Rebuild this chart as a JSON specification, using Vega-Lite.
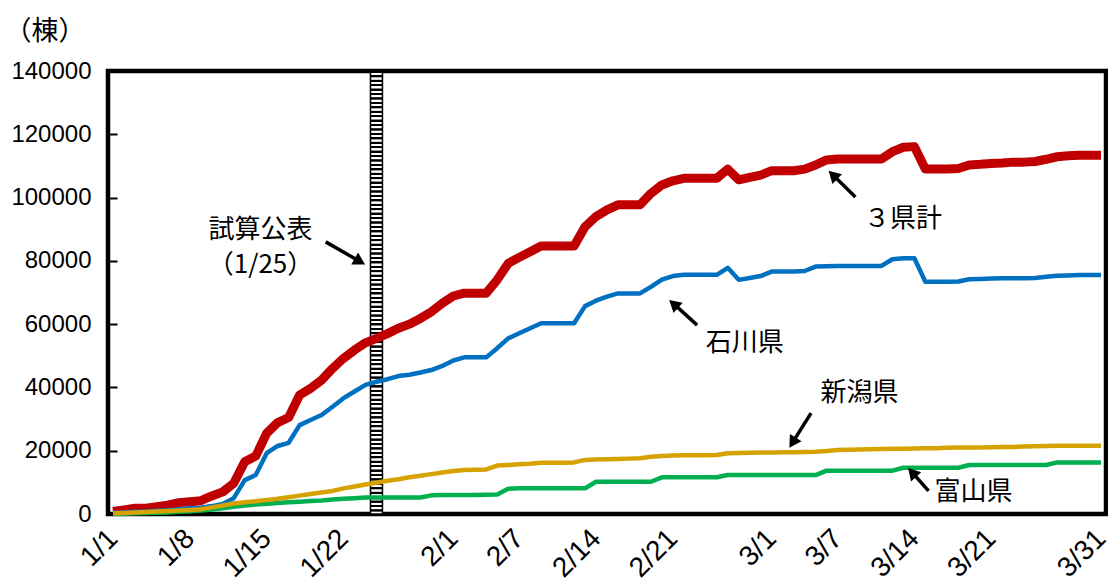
{
  "$schema": "https://vega.github.io/schema/vega-lite/v6.json",
  "width": 998,
  "height": 443,
  "autosize": {"type": "none"},
  "padding": {"left": 108, "top": 71, "right": 2, "bottom": 64},
  "background": "white",
  "config": {
    "view": {"stroke": "black", "strokeWidth": 4.5},
    "axis": {
      "grid": false,
      "domain": false,
      "labelFont": "Liberation Sans",
      "labelFontSize": 24,
      "labelColor": "black"
    }
  },
  "datasets": {
    "daily": [
      {"date": "2024-01-01", "total": 800, "ishikawa": 300, "niigata": 200, "toyama": 0},
      {"date": "2024-01-02", "total": 1300, "ishikawa": 500, "niigata": 300, "toyama": 100},
      {"date": "2024-01-03", "total": 1800, "ishikawa": 700, "niigata": 450, "toyama": 200},
      {"date": "2024-01-04", "total": 1800, "ishikawa": 800, "niigata": 600, "toyama": 300},
      {"date": "2024-01-05", "total": 2300, "ishikawa": 1000, "niigata": 800, "toyama": 400},
      {"date": "2024-01-06", "total": 2800, "ishikawa": 1200, "niigata": 950, "toyama": 500},
      {"date": "2024-01-07", "total": 3600, "ishikawa": 1500, "niigata": 1100, "toyama": 700},
      {"date": "2024-01-08", "total": 3900, "ishikawa": 1800, "niigata": 1300, "toyama": 900},
      {"date": "2024-01-09", "total": 4200, "ishikawa": 2000, "niigata": 1500, "toyama": 1100},
      {"date": "2024-01-10", "total": 5700, "ishikawa": 2500, "niigata": 2100, "toyama": 1400},
      {"date": "2024-01-11", "total": 7000, "ishikawa": 3200, "niigata": 2700, "toyama": 1800},
      {"date": "2024-01-12", "total": 9700, "ishikawa": 5000, "niigata": 3300, "toyama": 2300},
      {"date": "2024-01-13", "total": 16500, "ishikawa": 10700, "niigata": 3700, "toyama": 2700},
      {"date": "2024-01-14", "total": 18300, "ishikawa": 12300, "niigata": 4000, "toyama": 3000},
      {"date": "2024-01-15", "total": 25500, "ishikawa": 19200, "niigata": 4400, "toyama": 3200},
      {"date": "2024-01-16", "total": 28900, "ishikawa": 21500, "niigata": 4800, "toyama": 3500},
      {"date": "2024-01-17", "total": 30500, "ishikawa": 22500, "niigata": 5300, "toyama": 3700},
      {"date": "2024-01-18", "total": 37600, "ishikawa": 28100, "niigata": 5800, "toyama": 3900},
      {"date": "2024-01-19", "total": 39700, "ishikawa": 29700, "niigata": 6300, "toyama": 4100},
      {"date": "2024-01-20", "total": 42300, "ishikawa": 31300, "niigata": 6800, "toyama": 4300},
      {"date": "2024-01-21", "total": 46000, "ishikawa": 33900, "niigata": 7300, "toyama": 4600},
      {"date": "2024-01-22", "total": 49200, "ishikawa": 36600, "niigata": 8100, "toyama": 4800},
      {"date": "2024-01-23", "total": 51800, "ishikawa": 38700, "niigata": 8700, "toyama": 5000},
      {"date": "2024-01-24", "total": 54100, "ishikawa": 40800, "niigata": 9300, "toyama": 5200},
      {"date": "2024-01-25", "total": 55500, "ishikawa": 41800, "niigata": 9900, "toyama": 5200},
      {"date": "2024-01-26", "total": 57000, "ishikawa": 42600, "niigata": 10500, "toyama": 5200},
      {"date": "2024-01-27", "total": 58700, "ishikawa": 43600, "niigata": 11000, "toyama": 5200},
      {"date": "2024-01-28", "total": 60000, "ishikawa": 44000, "niigata": 11600, "toyama": 5200},
      {"date": "2024-01-29", "total": 61800, "ishikawa": 44700, "niigata": 12100, "toyama": 5200},
      {"date": "2024-01-30", "total": 63900, "ishikawa": 45500, "niigata": 12600, "toyama": 5900},
      {"date": "2024-01-31", "total": 66600, "ishikawa": 46800, "niigata": 13100, "toyama": 6000},
      {"date": "2024-02-01", "total": 68900, "ishikawa": 48500, "niigata": 13600, "toyama": 6000},
      {"date": "2024-02-02", "total": 69800, "ishikawa": 49500, "niigata": 13900, "toyama": 6000},
      {"date": "2024-02-03", "total": 69800, "ishikawa": 49500, "niigata": 14000, "toyama": 6000},
      {"date": "2024-02-04", "total": 69800, "ishikawa": 49500, "niigata": 14100, "toyama": 6100},
      {"date": "2024-02-05", "total": 74000, "ishikawa": 52400, "niigata": 15300, "toyama": 6200},
      {"date": "2024-02-06", "total": 79200, "ishikawa": 55500, "niigata": 15500, "toyama": 8000},
      {"date": "2024-02-07", "total": 81100, "ishikawa": 57100, "niigata": 15700, "toyama": 8100},
      {"date": "2024-02-08", "total": 82900, "ishikawa": 58700, "niigata": 15900, "toyama": 8100},
      {"date": "2024-02-09", "total": 84700, "ishikawa": 60300, "niigata": 16200, "toyama": 8100},
      {"date": "2024-02-10", "total": 84700, "ishikawa": 60300, "niigata": 16200, "toyama": 8100},
      {"date": "2024-02-11", "total": 84700, "ishikawa": 60300, "niigata": 16200, "toyama": 8100},
      {"date": "2024-02-12", "total": 84700, "ishikawa": 60300, "niigata": 16300, "toyama": 8100},
      {"date": "2024-02-13", "total": 90800, "ishikawa": 65700, "niigata": 17100, "toyama": 8100},
      {"date": "2024-02-14", "total": 94000, "ishikawa": 67400, "niigata": 17200, "toyama": 10200},
      {"date": "2024-02-15", "total": 96100, "ishikawa": 68700, "niigata": 17300, "toyama": 10200},
      {"date": "2024-02-16", "total": 97700, "ishikawa": 69700, "niigata": 17400, "toyama": 10200},
      {"date": "2024-02-17", "total": 97700, "ishikawa": 69700, "niigata": 17500, "toyama": 10200},
      {"date": "2024-02-18", "total": 97700, "ishikawa": 69700, "niigata": 17600, "toyama": 10200},
      {"date": "2024-02-19", "total": 101300, "ishikawa": 71800, "niigata": 18100, "toyama": 10200},
      {"date": "2024-02-20", "total": 104000, "ishikawa": 74100, "niigata": 18300, "toyama": 11600},
      {"date": "2024-02-21", "total": 105300, "ishikawa": 75200, "niigata": 18500, "toyama": 11600},
      {"date": "2024-02-22", "total": 106100, "ishikawa": 75600, "niigata": 18600, "toyama": 11600},
      {"date": "2024-02-23", "total": 106100, "ishikawa": 75600, "niigata": 18600, "toyama": 11600},
      {"date": "2024-02-24", "total": 106100, "ishikawa": 75600, "niigata": 18600, "toyama": 11600},
      {"date": "2024-02-25", "total": 106100, "ishikawa": 75600, "niigata": 18650, "toyama": 11600},
      {"date": "2024-02-26", "total": 109000, "ishikawa": 77800, "niigata": 19200, "toyama": 12300},
      {"date": "2024-02-27", "total": 105600, "ishikawa": 74000, "niigata": 19250, "toyama": 12300},
      {"date": "2024-02-28", "total": 106400, "ishikawa": 74600, "niigata": 19350, "toyama": 12300},
      {"date": "2024-02-29", "total": 107100, "ishikawa": 75200, "niigata": 19400, "toyama": 12300},
      {"date": "2024-03-01", "total": 108500, "ishikawa": 76600, "niigata": 19450, "toyama": 12300},
      {"date": "2024-03-02", "total": 108500, "ishikawa": 76600, "niigata": 19500, "toyama": 12300},
      {"date": "2024-03-03", "total": 108500, "ishikawa": 76600, "niigata": 19550, "toyama": 12300},
      {"date": "2024-03-04", "total": 109000, "ishikawa": 76800, "niigata": 19600, "toyama": 12300},
      {"date": "2024-03-05", "total": 110300, "ishikawa": 78200, "niigata": 19700, "toyama": 12300},
      {"date": "2024-03-06", "total": 111900, "ishikawa": 78300, "niigata": 19900, "toyama": 13700},
      {"date": "2024-03-07", "total": 112200, "ishikawa": 78400, "niigata": 20200, "toyama": 13700},
      {"date": "2024-03-08", "total": 112200, "ishikawa": 78400, "niigata": 20300, "toyama": 13700},
      {"date": "2024-03-09", "total": 112200, "ishikawa": 78400, "niigata": 20400, "toyama": 13700},
      {"date": "2024-03-10", "total": 112200, "ishikawa": 78400, "niigata": 20500, "toyama": 13700},
      {"date": "2024-03-11", "total": 112200, "ishikawa": 78400, "niigata": 20550, "toyama": 13700},
      {"date": "2024-03-12", "total": 114500, "ishikawa": 80500, "niigata": 20600, "toyama": 13700},
      {"date": "2024-03-13", "total": 115900, "ishikawa": 80800, "niigata": 20650, "toyama": 14600},
      {"date": "2024-03-14", "total": 116100, "ishikawa": 80800, "niigata": 20700, "toyama": 14600},
      {"date": "2024-03-15", "total": 109000, "ishikawa": 73400, "niigata": 20750, "toyama": 14600},
      {"date": "2024-03-16", "total": 109000, "ishikawa": 73400, "niigata": 20800, "toyama": 14600},
      {"date": "2024-03-17", "total": 109000, "ishikawa": 73400, "niigata": 20900, "toyama": 14600},
      {"date": "2024-03-18", "total": 109200, "ishikawa": 73500, "niigata": 21000, "toyama": 14600},
      {"date": "2024-03-19", "total": 110300, "ishikawa": 74200, "niigata": 21000, "toyama": 15500},
      {"date": "2024-03-20", "total": 110500, "ishikawa": 74300, "niigata": 21050, "toyama": 15500},
      {"date": "2024-03-21", "total": 110800, "ishikawa": 74400, "niigata": 21100, "toyama": 15500},
      {"date": "2024-03-22", "total": 110900, "ishikawa": 74500, "niigata": 21150, "toyama": 15500},
      {"date": "2024-03-23", "total": 111200, "ishikawa": 74500, "niigata": 21200, "toyama": 15500},
      {"date": "2024-03-24", "total": 111200, "ishikawa": 74500, "niigata": 21300, "toyama": 15500},
      {"date": "2024-03-25", "total": 111400, "ishikawa": 74600, "niigata": 21400, "toyama": 15500},
      {"date": "2024-03-26", "total": 112100, "ishikawa": 75000, "niigata": 21500, "toyama": 15500},
      {"date": "2024-03-27", "total": 112900, "ishikawa": 75300, "niigata": 21600, "toyama": 16300},
      {"date": "2024-03-28", "total": 113200, "ishikawa": 75400, "niigata": 21600, "toyama": 16300},
      {"date": "2024-03-29", "total": 113400, "ishikawa": 75500, "niigata": 21600, "toyama": 16300},
      {"date": "2024-03-30", "total": 113400, "ishikawa": 75500, "niigata": 21600, "toyama": 16300},
      {"date": "2024-03-31", "total": 113400, "ishikawa": 75500, "niigata": 21600, "toyama": 16300}
    ],
    "events": [
      {"date": "2024-01-25", "event": "試算公表"}
    ],
    "notes": [
      {"date": "2024-01-14T10:30:00Z", "value": 89700, "text": "試算公表"},
      {"date": "2024-01-14T10:30:00Z", "value": 78700, "text": "（1/25）"},
      {"date": "2024-03-12T23:00:00Z", "value": 93200, "text": "３県計"},
      {"date": "2024-02-27T13:00:00Z", "value": 54000, "text": "石川県"},
      {"date": "2024-03-09T00:00:00Z", "value": 38200, "text": "新潟県"},
      {"date": "2024-03-19T09:00:00Z", "value": 7000, "text": "富山県"}
    ],
    "arrows": [
      {"from_date": "2024-01-20T09:00:00Z", "from_value": 86000, "to_date": "2024-01-23T08:00:00Z", "to_value": 80100, "heading": 119.6},
      {"from_date": "2024-03-08T15:00:00Z", "from_value": 100200, "to_date": "2024-03-06T17:00:00Z", "to_value": 106700, "heading": 313.8},
      {"from_date": "2024-02-23T05:00:00Z", "from_value": 59700, "to_date": "2024-02-21T05:00:00Z", "to_value": 66000, "heading": 311.5},
      {"from_date": "2024-03-04T14:00:00Z", "from_value": 31900, "to_date": "2024-03-03T00:00:00Z", "to_value": 23100, "heading": 212},
      {"from_date": "2024-03-15T07:00:00Z", "from_value": 7300, "to_date": "2024-03-13T22:00:00Z", "to_value": 12700, "heading": 317.9}
    ]
  },
  "layer": [
    {
      "data": {"name": "events"},
      "mark": {
        "type": "bar",
        "size": 12,
        "stroke": "black",
        "strokeWidth": 1.5,
        "fill": {
          "gradient": "linear",
          "x1": 0, "y1": 0, "x2": 0, "y2": 1,
          "stops": [
            {"offset":0,"color":"#000"},{"offset":0.004,"color":"#000"},{"offset":0.005,"color":"#fff"},{"offset":0.009,"color":"#fff"},
            {"offset":0.01,"color":"#000"},{"offset":0.014,"color":"#000"},{"offset":0.015,"color":"#fff"},{"offset":0.019,"color":"#fff"},
            {"offset":0.02,"color":"#000"},{"offset":0.024,"color":"#000"},{"offset":0.025,"color":"#fff"},{"offset":0.029,"color":"#fff"},
            {"offset":0.03,"color":"#000"},{"offset":0.034,"color":"#000"},{"offset":0.035,"color":"#fff"},{"offset":0.039,"color":"#fff"},
            {"offset":0.04,"color":"#000"},{"offset":0.044,"color":"#000"},{"offset":0.045,"color":"#fff"},{"offset":0.049,"color":"#fff"},
            {"offset":0.05,"color":"#000"},{"offset":0.054,"color":"#000"},{"offset":0.055,"color":"#fff"},{"offset":0.059,"color":"#fff"},
            {"offset":0.06,"color":"#000"},{"offset":0.064,"color":"#000"},{"offset":0.065,"color":"#fff"},{"offset":0.069,"color":"#fff"},
            {"offset":0.07,"color":"#000"},{"offset":0.074,"color":"#000"},{"offset":0.075,"color":"#fff"},{"offset":0.079,"color":"#fff"},
            {"offset":0.08,"color":"#000"},{"offset":0.084,"color":"#000"},{"offset":0.085,"color":"#fff"},{"offset":0.089,"color":"#fff"},
            {"offset":0.09,"color":"#000"},{"offset":0.094,"color":"#000"},{"offset":0.095,"color":"#fff"},{"offset":0.099,"color":"#fff"},
            {"offset":0.1,"color":"#000"},{"offset":0.104,"color":"#000"},{"offset":0.105,"color":"#fff"},{"offset":0.109,"color":"#fff"},
            {"offset":0.11,"color":"#000"},{"offset":0.114,"color":"#000"},{"offset":0.115,"color":"#fff"},{"offset":0.119,"color":"#fff"},
            {"offset":0.12,"color":"#000"},{"offset":0.124,"color":"#000"},{"offset":0.125,"color":"#fff"},{"offset":0.129,"color":"#fff"},
            {"offset":0.13,"color":"#000"},{"offset":0.134,"color":"#000"},{"offset":0.135,"color":"#fff"},{"offset":0.139,"color":"#fff"},
            {"offset":0.14,"color":"#000"},{"offset":0.144,"color":"#000"},{"offset":0.145,"color":"#fff"},{"offset":0.149,"color":"#fff"},
            {"offset":0.15,"color":"#000"},{"offset":0.154,"color":"#000"},{"offset":0.155,"color":"#fff"},{"offset":0.159,"color":"#fff"},
            {"offset":0.16,"color":"#000"},{"offset":0.164,"color":"#000"},{"offset":0.165,"color":"#fff"},{"offset":0.169,"color":"#fff"},
            {"offset":0.17,"color":"#000"},{"offset":0.174,"color":"#000"},{"offset":0.175,"color":"#fff"},{"offset":0.179,"color":"#fff"},
            {"offset":0.18,"color":"#000"},{"offset":0.184,"color":"#000"},{"offset":0.185,"color":"#fff"},{"offset":0.189,"color":"#fff"},
            {"offset":0.19,"color":"#000"},{"offset":0.194,"color":"#000"},{"offset":0.195,"color":"#fff"},{"offset":0.199,"color":"#fff"},
            {"offset":0.2,"color":"#000"},{"offset":0.204,"color":"#000"},{"offset":0.205,"color":"#fff"},{"offset":0.209,"color":"#fff"},
            {"offset":0.21,"color":"#000"},{"offset":0.214,"color":"#000"},{"offset":0.215,"color":"#fff"},{"offset":0.219,"color":"#fff"},
            {"offset":0.22,"color":"#000"},{"offset":0.224,"color":"#000"},{"offset":0.225,"color":"#fff"},{"offset":0.229,"color":"#fff"},
            {"offset":0.23,"color":"#000"},{"offset":0.234,"color":"#000"},{"offset":0.235,"color":"#fff"},{"offset":0.239,"color":"#fff"},
            {"offset":0.24,"color":"#000"},{"offset":0.244,"color":"#000"},{"offset":0.245,"color":"#fff"},{"offset":0.249,"color":"#fff"},
            {"offset":0.25,"color":"#000"},{"offset":0.254,"color":"#000"},{"offset":0.255,"color":"#fff"},{"offset":0.259,"color":"#fff"},
            {"offset":0.26,"color":"#000"},{"offset":0.264,"color":"#000"},{"offset":0.265,"color":"#fff"},{"offset":0.269,"color":"#fff"},
            {"offset":0.27,"color":"#000"},{"offset":0.274,"color":"#000"},{"offset":0.275,"color":"#fff"},{"offset":0.279,"color":"#fff"},
            {"offset":0.28,"color":"#000"},{"offset":0.284,"color":"#000"},{"offset":0.285,"color":"#fff"},{"offset":0.289,"color":"#fff"},
            {"offset":0.29,"color":"#000"},{"offset":0.294,"color":"#000"},{"offset":0.295,"color":"#fff"},{"offset":0.299,"color":"#fff"},
            {"offset":0.3,"color":"#000"},{"offset":0.304,"color":"#000"},{"offset":0.305,"color":"#fff"},{"offset":0.309,"color":"#fff"},
            {"offset":0.31,"color":"#000"},{"offset":0.314,"color":"#000"},{"offset":0.315,"color":"#fff"},{"offset":0.319,"color":"#fff"},
            {"offset":0.32,"color":"#000"},{"offset":0.324,"color":"#000"},{"offset":0.325,"color":"#fff"},{"offset":0.329,"color":"#fff"},
            {"offset":0.33,"color":"#000"},{"offset":0.334,"color":"#000"},{"offset":0.335,"color":"#fff"},{"offset":0.339,"color":"#fff"},
            {"offset":0.34,"color":"#000"},{"offset":0.344,"color":"#000"},{"offset":0.345,"color":"#fff"},{"offset":0.349,"color":"#fff"},
            {"offset":0.35,"color":"#000"},{"offset":0.354,"color":"#000"},{"offset":0.355,"color":"#fff"},{"offset":0.359,"color":"#fff"},
            {"offset":0.36,"color":"#000"},{"offset":0.364,"color":"#000"},{"offset":0.365,"color":"#fff"},{"offset":0.369,"color":"#fff"},
            {"offset":0.37,"color":"#000"},{"offset":0.374,"color":"#000"},{"offset":0.375,"color":"#fff"},{"offset":0.379,"color":"#fff"},
            {"offset":0.38,"color":"#000"},{"offset":0.384,"color":"#000"},{"offset":0.385,"color":"#fff"},{"offset":0.389,"color":"#fff"},
            {"offset":0.39,"color":"#000"},{"offset":0.394,"color":"#000"},{"offset":0.395,"color":"#fff"},{"offset":0.399,"color":"#fff"},
            {"offset":0.4,"color":"#000"},{"offset":0.404,"color":"#000"},{"offset":0.405,"color":"#fff"},{"offset":0.409,"color":"#fff"},
            {"offset":0.41,"color":"#000"},{"offset":0.414,"color":"#000"},{"offset":0.415,"color":"#fff"},{"offset":0.419,"color":"#fff"},
            {"offset":0.42,"color":"#000"},{"offset":0.424,"color":"#000"},{"offset":0.425,"color":"#fff"},{"offset":0.429,"color":"#fff"},
            {"offset":0.43,"color":"#000"},{"offset":0.434,"color":"#000"},{"offset":0.435,"color":"#fff"},{"offset":0.439,"color":"#fff"},
            {"offset":0.44,"color":"#000"},{"offset":0.444,"color":"#000"},{"offset":0.445,"color":"#fff"},{"offset":0.449,"color":"#fff"},
            {"offset":0.45,"color":"#000"},{"offset":0.454,"color":"#000"},{"offset":0.455,"color":"#fff"},{"offset":0.459,"color":"#fff"},
            {"offset":0.46,"color":"#000"},{"offset":0.464,"color":"#000"},{"offset":0.465,"color":"#fff"},{"offset":0.469,"color":"#fff"},
            {"offset":0.47,"color":"#000"},{"offset":0.474,"color":"#000"},{"offset":0.475,"color":"#fff"},{"offset":0.479,"color":"#fff"},
            {"offset":0.48,"color":"#000"},{"offset":0.484,"color":"#000"},{"offset":0.485,"color":"#fff"},{"offset":0.489,"color":"#fff"},
            {"offset":0.49,"color":"#000"},{"offset":0.494,"color":"#000"},{"offset":0.495,"color":"#fff"},{"offset":0.499,"color":"#fff"},
            {"offset":0.5,"color":"#000"},{"offset":0.504,"color":"#000"},{"offset":0.505,"color":"#fff"},{"offset":0.509,"color":"#fff"},
            {"offset":0.51,"color":"#000"},{"offset":0.514,"color":"#000"},{"offset":0.515,"color":"#fff"},{"offset":0.519,"color":"#fff"},
            {"offset":0.52,"color":"#000"},{"offset":0.524,"color":"#000"},{"offset":0.525,"color":"#fff"},{"offset":0.529,"color":"#fff"},
            {"offset":0.53,"color":"#000"},{"offset":0.534,"color":"#000"},{"offset":0.535,"color":"#fff"},{"offset":0.539,"color":"#fff"},
            {"offset":0.54,"color":"#000"},{"offset":0.544,"color":"#000"},{"offset":0.545,"color":"#fff"},{"offset":0.549,"color":"#fff"},
            {"offset":0.55,"color":"#000"},{"offset":0.554,"color":"#000"},{"offset":0.555,"color":"#fff"},{"offset":0.559,"color":"#fff"},
            {"offset":0.56,"color":"#000"},{"offset":0.564,"color":"#000"},{"offset":0.565,"color":"#fff"},{"offset":0.569,"color":"#fff"},
            {"offset":0.57,"color":"#000"},{"offset":0.574,"color":"#000"},{"offset":0.575,"color":"#fff"},{"offset":0.579,"color":"#fff"},
            {"offset":0.58,"color":"#000"},{"offset":0.584,"color":"#000"},{"offset":0.585,"color":"#fff"},{"offset":0.589,"color":"#fff"},
            {"offset":0.59,"color":"#000"},{"offset":0.594,"color":"#000"},{"offset":0.595,"color":"#fff"},{"offset":0.599,"color":"#fff"},
            {"offset":0.6,"color":"#000"},{"offset":0.604,"color":"#000"},{"offset":0.605,"color":"#fff"},{"offset":0.609,"color":"#fff"},
            {"offset":0.61,"color":"#000"},{"offset":0.614,"color":"#000"},{"offset":0.615,"color":"#fff"},{"offset":0.619,"color":"#fff"},
            {"offset":0.62,"color":"#000"},{"offset":0.624,"color":"#000"},{"offset":0.625,"color":"#fff"},{"offset":0.629,"color":"#fff"},
            {"offset":0.63,"color":"#000"},{"offset":0.634,"color":"#000"},{"offset":0.635,"color":"#fff"},{"offset":0.639,"color":"#fff"},
            {"offset":0.64,"color":"#000"},{"offset":0.644,"color":"#000"},{"offset":0.645,"color":"#fff"},{"offset":0.649,"color":"#fff"},
            {"offset":0.65,"color":"#000"},{"offset":0.654,"color":"#000"},{"offset":0.655,"color":"#fff"},{"offset":0.659,"color":"#fff"},
            {"offset":0.66,"color":"#000"},{"offset":0.664,"color":"#000"},{"offset":0.665,"color":"#fff"},{"offset":0.669,"color":"#fff"},
            {"offset":0.67,"color":"#000"},{"offset":0.674,"color":"#000"},{"offset":0.675,"color":"#fff"},{"offset":0.679,"color":"#fff"},
            {"offset":0.68,"color":"#000"},{"offset":0.684,"color":"#000"},{"offset":0.685,"color":"#fff"},{"offset":0.689,"color":"#fff"},
            {"offset":0.69,"color":"#000"},{"offset":0.694,"color":"#000"},{"offset":0.695,"color":"#fff"},{"offset":0.699,"color":"#fff"},
            {"offset":0.7,"color":"#000"},{"offset":0.704,"color":"#000"},{"offset":0.705,"color":"#fff"},{"offset":0.709,"color":"#fff"},
            {"offset":0.71,"color":"#000"},{"offset":0.714,"color":"#000"},{"offset":0.715,"color":"#fff"},{"offset":0.719,"color":"#fff"},
            {"offset":0.72,"color":"#000"},{"offset":0.724,"color":"#000"},{"offset":0.725,"color":"#fff"},{"offset":0.729,"color":"#fff"},
            {"offset":0.73,"color":"#000"},{"offset":0.734,"color":"#000"},{"offset":0.735,"color":"#fff"},{"offset":0.739,"color":"#fff"},
            {"offset":0.74,"color":"#000"},{"offset":0.744,"color":"#000"},{"offset":0.745,"color":"#fff"},{"offset":0.749,"color":"#fff"},
            {"offset":0.75,"color":"#000"},{"offset":0.754,"color":"#000"},{"offset":0.755,"color":"#fff"},{"offset":0.759,"color":"#fff"},
            {"offset":0.76,"color":"#000"},{"offset":0.764,"color":"#000"},{"offset":0.765,"color":"#fff"},{"offset":0.769,"color":"#fff"},
            {"offset":0.77,"color":"#000"},{"offset":0.774,"color":"#000"},{"offset":0.775,"color":"#fff"},{"offset":0.779,"color":"#fff"},
            {"offset":0.78,"color":"#000"},{"offset":0.784,"color":"#000"},{"offset":0.785,"color":"#fff"},{"offset":0.789,"color":"#fff"},
            {"offset":0.79,"color":"#000"},{"offset":0.794,"color":"#000"},{"offset":0.795,"color":"#fff"},{"offset":0.799,"color":"#fff"},
            {"offset":0.8,"color":"#000"},{"offset":0.804,"color":"#000"},{"offset":0.805,"color":"#fff"},{"offset":0.809,"color":"#fff"},
            {"offset":0.81,"color":"#000"},{"offset":0.814,"color":"#000"},{"offset":0.815,"color":"#fff"},{"offset":0.819,"color":"#fff"},
            {"offset":0.82,"color":"#000"},{"offset":0.824,"color":"#000"},{"offset":0.825,"color":"#fff"},{"offset":0.829,"color":"#fff"},
            {"offset":0.83,"color":"#000"},{"offset":0.834,"color":"#000"},{"offset":0.835,"color":"#fff"},{"offset":0.839,"color":"#fff"},
            {"offset":0.84,"color":"#000"},{"offset":0.844,"color":"#000"},{"offset":0.845,"color":"#fff"},{"offset":0.849,"color":"#fff"},
            {"offset":0.85,"color":"#000"},{"offset":0.854,"color":"#000"},{"offset":0.855,"color":"#fff"},{"offset":0.859,"color":"#fff"},
            {"offset":0.86,"color":"#000"},{"offset":0.864,"color":"#000"},{"offset":0.865,"color":"#fff"},{"offset":0.869,"color":"#fff"},
            {"offset":0.87,"color":"#000"},{"offset":0.874,"color":"#000"},{"offset":0.875,"color":"#fff"},{"offset":0.879,"color":"#fff"},
            {"offset":0.88,"color":"#000"},{"offset":0.884,"color":"#000"},{"offset":0.885,"color":"#fff"},{"offset":0.889,"color":"#fff"},
            {"offset":0.89,"color":"#000"},{"offset":0.894,"color":"#000"},{"offset":0.895,"color":"#fff"},{"offset":0.899,"color":"#fff"},
            {"offset":0.9,"color":"#000"},{"offset":0.904,"color":"#000"},{"offset":0.905,"color":"#fff"},{"offset":0.909,"color":"#fff"},
            {"offset":0.91,"color":"#000"},{"offset":0.914,"color":"#000"},{"offset":0.915,"color":"#fff"},{"offset":0.919,"color":"#fff"},
            {"offset":0.92,"color":"#000"},{"offset":0.924,"color":"#000"},{"offset":0.925,"color":"#fff"},{"offset":0.929,"color":"#fff"},
            {"offset":0.93,"color":"#000"},{"offset":0.934,"color":"#000"},{"offset":0.935,"color":"#fff"},{"offset":0.939,"color":"#fff"},
            {"offset":0.94,"color":"#000"},{"offset":0.944,"color":"#000"},{"offset":0.945,"color":"#fff"},{"offset":0.949,"color":"#fff"},
            {"offset":0.95,"color":"#000"},{"offset":0.954,"color":"#000"},{"offset":0.955,"color":"#fff"},{"offset":0.959,"color":"#fff"},
            {"offset":0.96,"color":"#000"},{"offset":0.964,"color":"#000"},{"offset":0.965,"color":"#fff"},{"offset":0.969,"color":"#fff"},
            {"offset":0.97,"color":"#000"},{"offset":0.974,"color":"#000"},{"offset":0.975,"color":"#fff"},{"offset":0.979,"color":"#fff"},
            {"offset":0.98,"color":"#000"},{"offset":0.984,"color":"#000"},{"offset":0.985,"color":"#fff"},{"offset":0.989,"color":"#fff"},
            {"offset":0.99,"color":"#000"},{"offset":0.994,"color":"#000"},{"offset":0.995,"color":"#fff"},{"offset":1,"color":"#fff"}
          ]
        }
      },
      "encoding": {
        "x": {
          "field": "date",
          "type": "temporal",
          "scale": {
            "type": "utc",
            "domain": [
              {"year": 2024, "month": 1, "date": 1, "utc": true},
              {"year": 2024, "month": 3, "date": 31, "utc": true}
            ]
          },
          "axis": {
            "title": null,
            "values": [
              {"year": 2024, "month": 1, "date": 1, "utc": true},
              {"year": 2024, "month": 1, "date": 8, "utc": true},
              {"year": 2024, "month": 1, "date": 15, "utc": true},
              {"year": 2024, "month": 1, "date": 22, "utc": true},
              {"year": 2024, "month": 2, "date": 1, "utc": true},
              {"year": 2024, "month": 2, "date": 7, "utc": true},
              {"year": 2024, "month": 2, "date": 14, "utc": true},
              {"year": 2024, "month": 2, "date": 21, "utc": true},
              {"year": 2024, "month": 3, "date": 1, "utc": true},
              {"year": 2024, "month": 3, "date": 7, "utc": true},
              {"year": 2024, "month": 3, "date": 14, "utc": true},
              {"year": 2024, "month": 3, "date": 21, "utc": true},
              {"year": 2024, "month": 3, "date": 31, "utc": true}
            ],
            "labelExpr": "utcFormat(datum.value, '%-m/%-d')",
            "labelFontSize": 28,
            "ticks": false,
            "labelAngle": -45,
            "labelAlign": "right",
            "labelBaseline": "middle",
            "labelPadding": 20,
            "labelOverlap": false,
            "labelFlush": false
          }
        },
        "y": {
          "datum": 140000,
          "type": "quantitative",
          "scale": {"domain": [0, 140000], "nice": false},
          "axis": {
            "title": "（棟）",
            "titleAngle": 0,
            "titleFont": "Noto Sans CJK JP",
            "titleFontSize": 27,
            "titleFontWeight": "normal",
            "titleColor": "black",
            "titleAlign": "left",
            "titleBaseline": "middle",
            "titleX": -104,
            "titleY": -40,
            "values": [0, 20000, 40000, 60000, 80000, 100000, 120000, 140000],
            "format": "d",
            "tickSize": -9,
            "tickWidth": 2,
            "tickColor": "black",
            "labelPadding": 26
          }
        },
        "y2": {"datum": 0}
      }
    },
    {
      "data": {"name": "daily"},
      "mark": {"type": "line", "color": "#C00000", "strokeWidth": 9, "strokeJoin": "round"},
      "encoding": {
        "x": {"field": "date", "type": "temporal"},
        "y": {"field": "total", "type": "quantitative"}
      }
    },
    {
      "data": {"name": "daily"},
      "mark": {"type": "line", "color": "#0070C0", "strokeWidth": 4.5, "strokeJoin": "round"},
      "encoding": {
        "x": {"field": "date", "type": "temporal"},
        "y": {"field": "ishikawa", "type": "quantitative"}
      }
    },
    {
      "data": {"name": "daily"},
      "mark": {"type": "line", "color": "#00B050", "strokeWidth": 4.5, "strokeJoin": "round"},
      "encoding": {
        "x": {"field": "date", "type": "temporal"},
        "y": {"field": "toyama", "type": "quantitative"}
      }
    },
    {
      "data": {"name": "daily"},
      "mark": {"type": "line", "color": "#D6A200", "strokeWidth": 4.5, "strokeJoin": "round"},
      "encoding": {
        "x": {"field": "date", "type": "temporal"},
        "y": {"field": "niigata", "type": "quantitative"}
      }
    },
    {
      "data": {"name": "arrows"},
      "mark": {"type": "rule", "color": "black", "strokeWidth": 3.5},
      "encoding": {
        "x": {"field": "from_date", "type": "temporal"},
        "y": {"field": "from_value", "type": "quantitative"},
        "x2": {"field": "to_date"},
        "y2": {"field": "to_value"}
      }
    },
    {
      "data": {"name": "arrows"},
      "mark": {"type": "point", "shape": "triangle", "filled": true, "color": "black", "opacity": 1, "size": 190},
      "encoding": {
        "x": {"field": "to_date", "type": "temporal"},
        "y": {"field": "to_value", "type": "quantitative"},
        "angle": {"field": "heading", "type": "quantitative", "scale": null}
      }
    },
    {
      "data": {"name": "notes"},
      "mark": {"type": "text", "font": "Noto Sans CJK JP", "fontSize": 26, "color": "black", "align": "center", "baseline": "middle"},
      "encoding": {
        "x": {"field": "date", "type": "temporal"},
        "y": {"field": "value", "type": "quantitative"},
        "text": {"field": "text"}
      }
    }
  ]
}
